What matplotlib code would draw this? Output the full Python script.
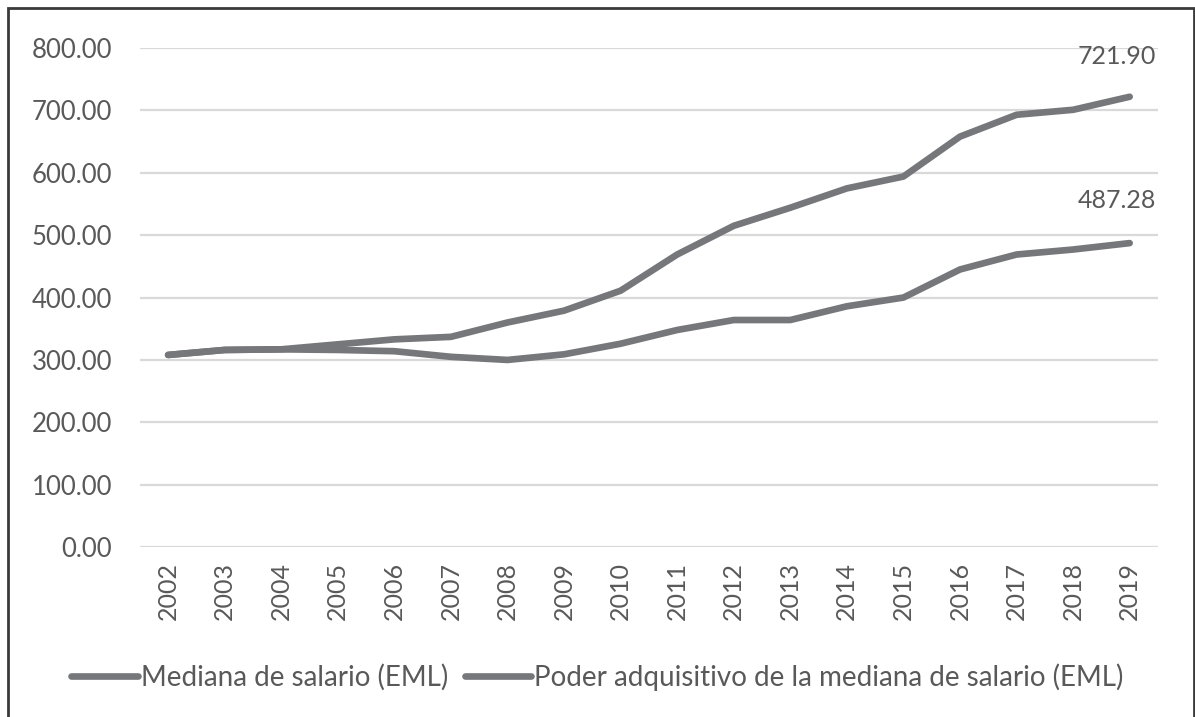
import matplotlib
matplotlib.use('Agg')
import matplotlib.pyplot as plt
from matplotlib.patches import Rectangle

plt.rcParams['font.family'] = ['Lato', 'DejaVu Sans']

years = [str(y) for y in range(2002, 2020)]
mediana = [308, 316, 317, 325, 333, 337, 360, 379, 411, 469, 515, 544, 575, 594, 658, 693, 701, 721.90]
poder = [308, 316, 317, 316, 314, 305, 300, 309, 326, 348, 364, 364, 386, 400, 445, 469, 477, 487.28]
series_names = ['Mediana de salario (EML)', 'Poder adquisitivo de la mediana de salario (EML)']
yticks = [0, 100, 200, 300, 400, 500, 600, 700, 800]

line_col = '#76777a'
text_col = '#595959'

fig = plt.figure(figsize=(11.95, 7.17), dpi=100)
ax = fig.add_axes([0.117, 0.237, 0.852, 0.696])

x = list(range(len(years)))
ax.plot(x, mediana, color=line_col, lw=4.8, solid_capstyle='round', label=series_names[0], zorder=3)
ax.plot(x, poder, color=line_col, lw=4.8, solid_capstyle='round', label=series_names[1], zorder=3)

ax.set_xlim(-0.5, len(years) - 0.5)
ax.set_ylim(0, 800)
ax.set_yticks(yticks)
ax.set_yticklabels([f'{v:.2f}' for v in yticks])
ax.set_xticks(x)
ax.set_xticklabels(years, rotation=90)
ax.tick_params(axis='y', length=0, pad=20, labelsize=18.5, labelcolor=text_col)
ax.tick_params(axis='x', length=0, pad=11, labelsize=18, labelcolor=text_col)
ax.grid(axis='y', color='#d9d9d9', lw=1.6)
ax.set_axisbelow(True)
for s in ax.spines.values():
    s.set_visible(False)

# end labels
ax.annotate(f'{mediana[-1]:.2f}', xy=(x[-1], mediana[-1]), xytext=(-9, 29),
            textcoords='offset points', ha='center', va='center', fontsize=18, color=text_col)
ax.annotate(f'{poder[-1]:.2f}', xy=(x[-1], poder[-1]), xytext=(-9, 31),
            textcoords='offset points', ha='center', va='center', fontsize=18, color=text_col)

fig.legend(loc='center', bbox_to_anchor=(0.5, 1 - 677 / 717), ncol=2, frameon=False,
           fontsize=20, labelcolor=text_col, handlelength=2.4, handletextpad=0.1,
           columnspacing=0.6)

# outer frame
fig.patches.append(Rectangle((8 / 1195, -0.05), 1186 / 1195, 1.05 - 8 / 717, transform=fig.transFigure,
                             fill=False, edgecolor='#3a3a3a', lw=2, zorder=10))

fig.savefig('out.png', dpi=100, facecolor='white')
